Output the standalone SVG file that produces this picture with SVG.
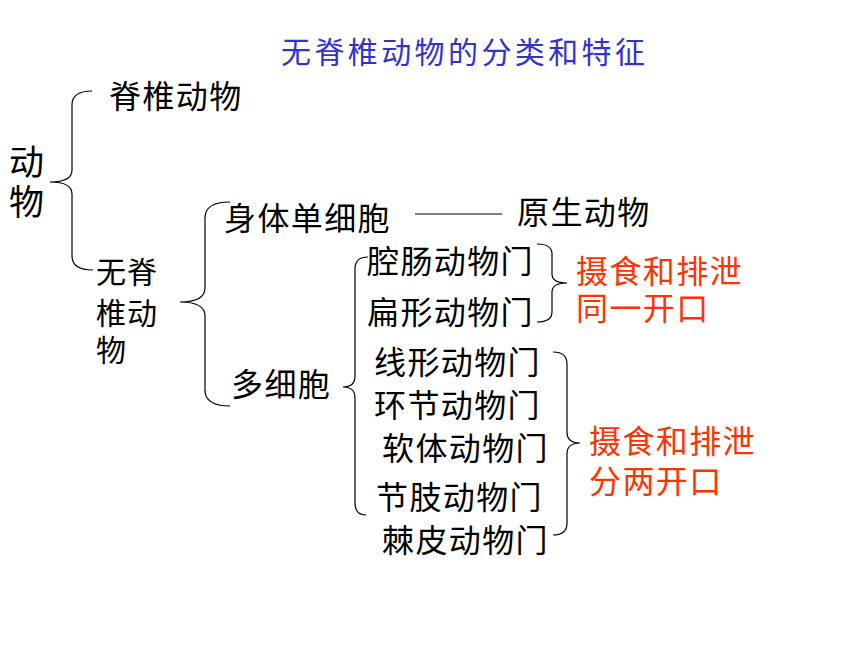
<svg xmlns="http://www.w3.org/2000/svg" width="860" height="645" viewBox="0 0 860 645">
<style>
text{font-family:"Liberation Sans","Noto Sans CJK SC",sans-serif;font-size:32px;letter-spacing:1.4px;fill:#000}
.title{font-size:30px;letter-spacing:3.4px;fill:#3333cc}
.red{fill:#ff3300}
.big{font-size:35px;letter-spacing:0}
.col{font-size:30px;letter-spacing:1px}
.br{fill:none;stroke:#000;stroke-width:1.2}
</style>
<rect width="860" height="645" fill="#fff"/>
<g id="title"><text class="title" x="281" y="63">无脊椎动物的分类和特征</text></g>
<g id="animal"><text class="big" x="9" y="175">动</text><text class="big" x="9" y="215">物</text></g>
<g id="vertebrate"><text x="109" y="108">脊椎动物</text></g>
<g id="invertebrate"><text class="col" x="96" y="283">无脊</text><text class="col" x="96" y="324">椎动</text><text class="col" x="96" y="361">物</text></g>
<g id="unicellular"><text x="224" y="230">身体单细胞</text></g>
<g id="protozoa"><text x="517" y="224">原生动物</text></g>
<g id="multicellular"><text x="231" y="396">多细胞</text></g>
<g id="coelenterata"><text x="367" y="273">腔肠动物门</text></g>
<g id="platyhelminthes"><text x="367" y="324">扁形动物门</text></g>
<g id="nematoda"><text x="374" y="374">线形动物门</text></g>
<g id="annelida"><text x="374" y="417">环节动物门</text></g>
<g id="mollusca"><text x="382" y="460">软体动物门</text></g>
<g id="arthropoda"><text x="376" y="509">节肢动物门</text></g>
<g id="echinodermata"><text x="382" y="552">棘皮动物门</text></g>
<g id="same-opening"><text class="red" x="576" y="283">摄食和排泄</text><text class="red" x="576" y="320">同一开口</text></g>
<g id="two-openings"><text class="red" x="589" y="453">摄食和排泄</text><text class="red" x="589" y="493">分两开口</text></g>
<g id="connectors">
<path class="br" d="M92 91 Q72 91 72 105 L72 170 Q72 182 50 182 Q72 182 72 194 L72 256 Q72 270 93 270"/>
<path class="br" d="M230 202 Q205 202 205 218 L205 288 Q205 302 180 302 Q205 302 205 316 L205 390 Q205 406 230 406"/>
<path class="br" d="M368 257 Q355 257 355 269 L355 376 Q355 387 343 387 Q355 387 355 398 L355 503 Q355 515 366 515"/>
<path class="br" d="M537 244 Q552 244 552 254 L552 274 Q552 283 567 283 Q552 283 552 292 L552 312 Q552 322 537 322"/>
<path class="br" d="M553 352 Q567 352 567 364 L567 432 Q567 443 580 443 Q567 443 567 454 L567 523 Q567 535 553 535"/>
<line x1="415" y1="214" x2="502" y2="214" stroke="#000" stroke-width="1.2"/>
</g>
</svg>
